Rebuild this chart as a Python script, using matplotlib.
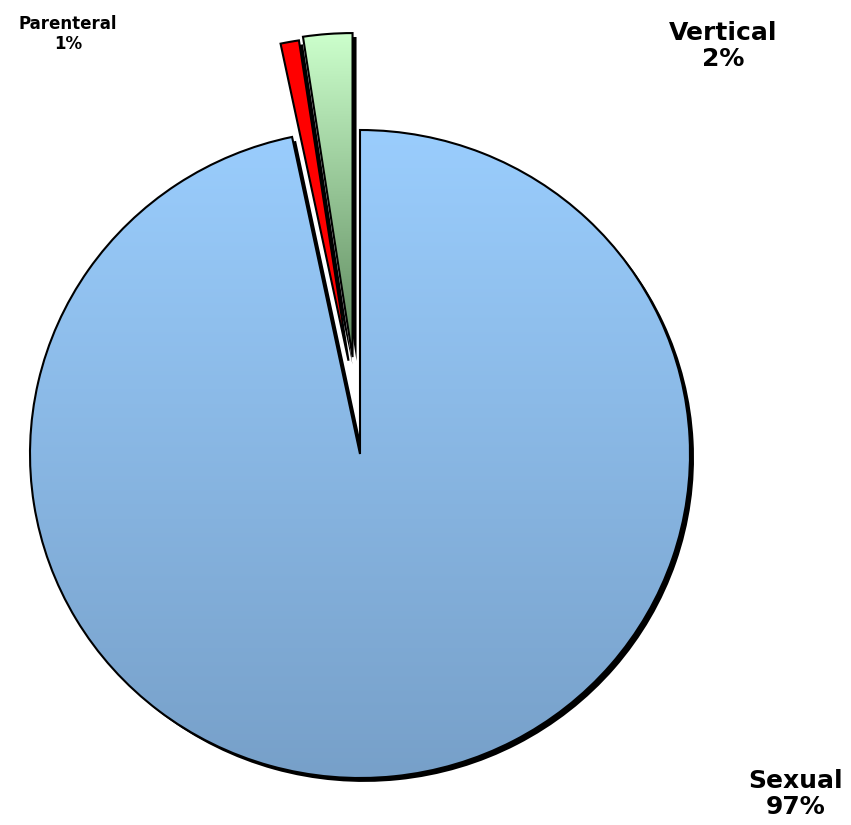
import numpy as np
import matplotlib
matplotlib.use("Agg")
import matplotlib.pyplot as plt
from matplotlib.colors import LinearSegmentedColormap
from matplotlib.patches import Wedge

labels = ["Sexual", "Parenteral", "Vertical"]
values = [96.7, 0.9, 2.4]
explode_frac = [0.0, 0.29, 0.30]
explode_dir = [None, 96.9, None]   # override direction (deg) for exploded slice

pct_labels = [f"{round(v):d}%" for v in values]

W, H = 851, 825
fig = plt.figure(figsize=(W / 100, H / 100), dpi=100)
ax = fig.add_axes([0, 0, 1, 1])

# pixel-based data coordinates (y slightly stretched to match the slight ellipse)
ysc = 330 / 324
cx, cy = 360, (H - 454) * ysc
R = 330

wedges, _ = ax.pie(values, startangle=90, counterclock=False,
                   explode=[e * R for e in explode_frac],
                   radius=R, center=(cx, cy), colors=["none", "#ff0000", "none"],
                   wedgeprops=dict(edgecolor="black", linewidth=1.5))

for w, e, d in zip(wedges, explode_frac, explode_dir):
    if d is not None:
        a = np.deg2rad(d)
        w.set_center((cx + e * R * np.cos(a), cy + e * R * np.sin(a)))

# shadows
for w in wedges:
    sh = Wedge((w.center[0] + 4, w.center[1] - 4), w.r, w.theta1, w.theta2,
               facecolor="black", edgecolor="none", zorder=0.5)
    ax.add_patch(sh)
for w in wedges:
    w.set_zorder(3)

# gradients
grad = np.linspace(0, 1, 256).reshape(-1, 1)
cm_blue = LinearSegmentedColormap.from_list("b", ["#77a0c9", "#9acdfd"])
cm_green = LinearSegmentedColormap.from_list("g", ["#5b865b", "#ccffcc"])

w = wedges[0]
im = ax.imshow(grad, cmap=cm_blue, origin="lower", aspect="auto",
               extent=[cx - R, cx + R, cy - R, cy + R], zorder=2)
im.set_clip_path(w)

w = wedges[2]
c = w.center
im2 = ax.imshow(grad, cmap=cm_green, origin="lower", aspect="auto",
                extent=[c[0] - 70, c[0] + 10, c[1], c[1] + R], zorder=2)
im2.set_clip_path(w)

ax.set_xlim(0, W)
ax.set_ylim(0, H * ysc)
ax.set_aspect("auto")
ax.axis("off")

def px(x, y):
    return x, (H - y) * ysc

ax.text(*px(68, 34), f"{labels[1]}\n{pct_labels[1]}", ha="center", va="center",
        fontsize=12, fontweight="bold", linespacing=1.15)
ax.text(*px(723, 46), f"{labels[2]}\n{pct_labels[2]}", ha="center", va="center",
        fontsize=18, fontweight="bold", linespacing=1.1)
ax.text(*px(796, 794), f"{labels[0]}\n{pct_labels[0]}", ha="center", va="center",
        fontsize=18, fontweight="bold", linespacing=1.1)

fig.savefig("out.png", dpi=100, facecolor="white")
